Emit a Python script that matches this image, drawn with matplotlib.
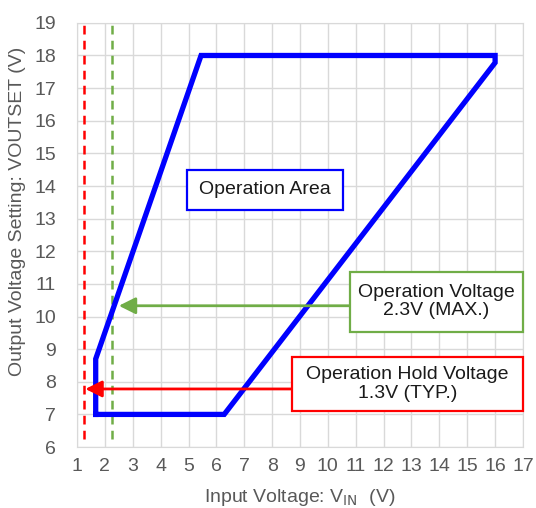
import matplotlib.pyplot as plt
from matplotlib.patches import Rectangle

plt.rcParams['font.family'] = ['Liberation Sans', 'DejaVu Sans']

# Operation area outline (Vin, Voutset)
area_vin = [1.67, 1.67, 5.45, 16.0, 16.0, 6.28, 1.67]
area_vout = [7.0, 8.7, 18.0, 18.0, 17.78, 7.0, 7.0]

hold_v = 1.25   # operation hold voltage line
oper_v = 2.27   # operation voltage line

xticks = list(range(1, 18))
yticks = list(range(6, 20))

fig = plt.figure(figsize=(5.36, 5.08), dpi=100)
ax = fig.add_axes([0.1437, 0.120, 0.832, 0.835])

ax.plot(area_vin, area_vout, color='#0000FF', lw=3.8, solid_joinstyle='miter', zorder=4)

ax.plot([hold_v, hold_v], [6.25, 19], color='#FF0000', lw=1.8, ls=(0, (3.5, 2.5)), zorder=3)
ax.plot([oper_v, oper_v], [6.25, 19], color='#70AD47', lw=1.8, ls=(0, (3.5, 2.5)), zorder=3)

# arrows
ax.annotate('', xy=(2.5, 10.33), xytext=(10.8, 10.33),
            arrowprops=dict(arrowstyle='-|>,head_length=1.0,head_width=0.5',
                            color='#70AD47', lw=2.0, shrinkA=0, shrinkB=0), zorder=5)
ax.annotate('', xy=(1.3, 7.78), xytext=(8.7, 7.78),
            arrowprops=dict(arrowstyle='-|>,head_length=1.0,head_width=0.5',
                            color='#FF0000', lw=2.0, shrinkA=0, shrinkB=0), zorder=5)

# text boxes
def box(x0, x1, y0, y1, ec, txt):
    ax.add_patch(Rectangle((x0, y0), x1 - x0, y1 - y0, facecolor='white',
                           edgecolor=ec, lw=1.6, zorder=6, clip_on=False))
    ax.text((x0 + x1) / 2, (y0 + y1) / 2, txt, ha='center', va='center',
            fontsize=14, color='#1a1a1a', zorder=7, linespacing=1.1)

box(4.94, 10.53, 13.27, 14.5, '#0000FF', 'Operation Area')
box(10.8, 17.0, 9.53, 11.37, '#70AD47', 'Operation Voltage\n2.3V (MAX.)')
box(8.7, 17.0, 7.10, 8.76, '#FF0000', 'Operation Hold Voltage\n1.3V (TYP.)')

ax.set_xlim(1, 17)
ax.set_ylim(6, 19)
ax.set_xticks(xticks)
ax.set_yticks(yticks)
ax.grid(True, color='#D9D9D9', lw=1.0)
ax.set_axisbelow(True)
for s in ax.spines.values():
    s.set_color('#D9D9D9')
ax.tick_params(length=0, labelsize=14, colors='#595959')
ax.tick_params(axis='x', pad=8)
ax.tick_params(axis='y', pad=15)

ax.set_xlabel('Input Voltage: V$_{\\mathrm{IN}}$  (V)', fontsize=14, color='#595959')
ax.set_ylabel('Output Voltage Setting: VOUTSET (V)', fontsize=14, color='#595959')
ax.xaxis.set_label_coords(0.5, -0.095)
ax.yaxis.set_label_coords(-0.115, 0.555)

fig.savefig('out.png', dpi=100)
